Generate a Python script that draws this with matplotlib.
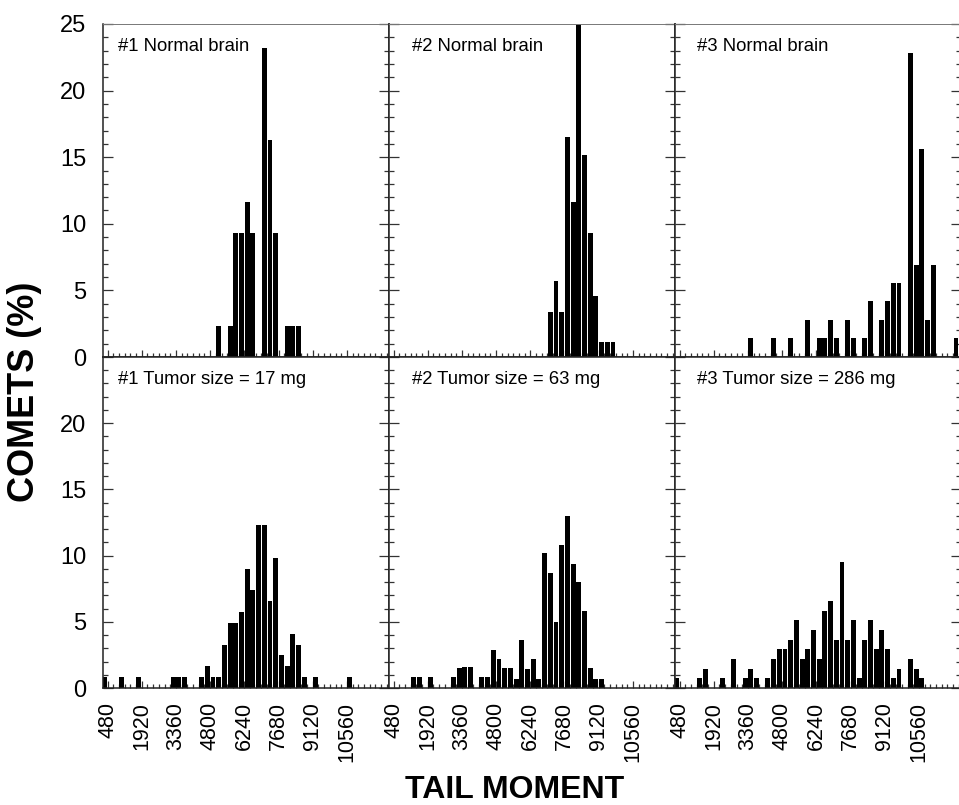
import numpy as np
import matplotlib
matplotlib.use("Agg")
from matplotlib import pyplot as plt
from matplotlib.ticker import MultipleLocator

# histogram bins are 240 units wide; a bar sits in bin j = [240*j, 240*(j+1)]
bin_width = 240

normal_titles = ["#1 Normal brain", "#2 Normal brain", "#3 Normal brain"]
tumor_titles = ["#1 Tumor size = 17 mg", "#2 Tumor size = 63 mg", "#3 Tumor size = 286 mg"]

# top row: normal brain
normal1_bins = [21, 23, 24, 25, 26, 27, 29, 30, 31, 33, 34, 35]
normal1_pct = [2.3, 2.3, 9.3, 9.3, 11.6, 9.3, 23.2, 16.3, 9.3, 2.3, 2.3, 2.3]

normal2_bins = [29, 30, 31, 32, 33, 34, 35, 36, 37, 38, 39, 40]
normal2_pct = [3.4, 5.7, 3.4, 16.5, 11.6, 25.5, 15.2, 9.3, 4.6, 1.1, 1.1, 1.1]

normal3_bins = [14, 18, 21, 24, 26, 27, 28, 29, 31, 32, 34, 35, 37, 38, 39, 40,
                42, 43, 44, 45, 46, 50]
normal3_pct = [1.39, 1.39, 1.39, 2.78, 1.39, 1.39, 2.78, 1.39, 2.78, 1.39, 1.39,
               4.17, 2.78, 4.17, 5.56, 5.56, 22.8, 6.94, 15.6, 2.78, 6.94, 1.39]

# bottom row: tumours
tumor1_bins = [1, 4, 7, 13, 14, 15, 18, 19, 20, 21, 22, 23, 24, 25, 26, 27, 28,
               29, 30, 31, 32, 33, 34, 35, 36, 38, 44]
tumor1_pct = [0.82, 0.82, 0.82, 0.82, 0.82, 0.82, 0.82, 1.64, 0.82, 0.82, 3.28,
              4.92, 4.92, 5.74, 9.02, 7.38, 12.3, 12.3, 6.56, 9.84, 2.46, 1.64,
              4.1, 3.28, 0.82, 0.82, 0.82]

tumor2_bins = [5, 6, 8, 12, 13, 14, 15, 17, 18, 19, 20, 21, 22, 23, 24, 25, 26,
               27, 28, 29, 30, 31, 32, 33, 34, 35, 36, 37, 38]
tumor2_pct = [0.8, 0.8, 0.8, 0.8, 1.5, 1.6, 1.6, 0.8, 0.8, 2.9, 2.2, 1.5, 1.5,
              0.7, 3.6, 1.4, 2.2, 0.7, 10.2, 8.7, 5.0, 10.8, 13.0, 9.4, 8.0, 5.8,
              1.5, 0.7, 0.7]

tumor3_bins = [1, 5, 6, 9, 11, 13, 14, 15, 17, 18, 19, 20, 21, 22, 23, 24, 25,
               26, 27, 28, 29, 30, 31, 32, 33, 34, 35, 36, 37, 38, 39, 40, 42,
               43, 44]
tumor3_pct = [0.73, 0.73, 1.46, 0.73, 2.19, 0.73, 1.46, 0.73, 0.73, 2.19, 2.92,
              2.92, 3.65, 5.11, 2.19, 2.92, 4.38, 2.19, 5.84, 6.57, 3.65, 9.49,
              3.65, 5.11, 0.73, 3.65, 5.11, 2.92, 4.38, 2.92, 0.73, 1.46, 2.19,
              1.46, 0.73]

x_ticks = [480, 1920, 3360, 4800, 6240, 7680, 9120, 10560]
y_ticks = [0, 5, 10, 15, 20, 25]

top_row = [(normal1_bins, normal1_pct), (normal2_bins, normal2_pct), (normal3_bins, normal3_pct)]
bottom_row = [(tumor1_bins, tumor1_pct), (tumor2_bins, tumor2_pct), (tumor3_bins, tumor3_pct)]

plt.rcParams["font.family"] = ["Liberation Sans", "DejaVu Sans"]

W, H = 959, 805
fig = plt.figure(figsize=(W / 100, H / 100), dpi=100)

lefts = [103, 389, 675]
pw = 286
rows = [(24, 357), (357, 688)]  # top/bottom pixel of each row
title_dx = [15, 23, 22]


def style(ax, row, col):
    ax.set_xlim(290, 12330)
    ax.set_ylim(0, 25)
    for s in ax.spines.values():
        s.set_linewidth(1.1)
        s.set_color("#222222")
    if row == 0:
        ax.spines["top"].set_linewidth(0.7)
        ax.spines["top"].set_color("#777777")
    ax.set_xticks(x_ticks)
    ax.xaxis.set_minor_locator(MultipleLocator(240))
    ax.set_yticks(y_ticks)
    ax.yaxis.set_minor_locator(MultipleLocator(1))
    ax.tick_params(axis="y", which="both", direction="in", left=True, right=True,
                   color="#333333", width=0.9)
    ax.tick_params(axis="y", which="major", length=7)
    ax.tick_params(axis="y", which="minor", length=3.5)
    ax.tick_params(axis="x", which="both", direction="in", bottom=True, top=False,
                   color="#333333", width=0.9)
    ax.tick_params(axis="x", which="major", length=5)
    ax.tick_params(axis="x", which="minor", length=3)
    if col == 0:
        labels = [str(v) for v in y_ticks]
        if row == 1:
            labels[-1] = ""
        ax.set_yticklabels(labels, fontsize=17)
        ax.tick_params(axis="y", pad=12)
    else:
        ax.set_yticklabels([])
    if row == 1:
        ax.set_xticklabels([str(v) for v in x_ticks], rotation=90, fontsize=15.5)
        ax.tick_params(axis="x", pad=10)
    else:
        ax.set_xticklabels([])


for r, (row_data, titles) in enumerate([(top_row, normal_titles), (bottom_row, tumor_titles)]):
    top_px, bot_px = rows[r]
    for c, ((bins, pct), title) in enumerate(zip(row_data, titles)):
        ax = fig.add_axes([lefts[c] / W, 1 - bot_px / H, pw / W, (bot_px - top_px) / H])
        x = bin_width * (np.array(bins) + 0.5)
        ax.bar(x, pct, width=bin_width * 0.86, color="black", edgecolor="none", zorder=2)
        style(ax, r, c)
        ax.annotate(title, xy=(0, 1), xycoords="axes fraction",
                    xytext=(title_dx[c] * 0.72, -10), textcoords="offset points",
                    ha="left", va="top", fontsize=13.3, zorder=5,
                    bbox=dict(boxstyle="square,pad=0.15", fc="white", ec="none"))

fig.text(25 / W, 1 - 392 / H, "COMETS (%)", rotation=90, ha="center", va="center",
         fontsize=26, fontweight="bold")
fig.text(515 / W, 1 - 790 / H, "TAIL MOMENT", ha="center", va="center",
         fontsize=23, fontweight="bold")

fig.savefig("out.png", dpi=100)
